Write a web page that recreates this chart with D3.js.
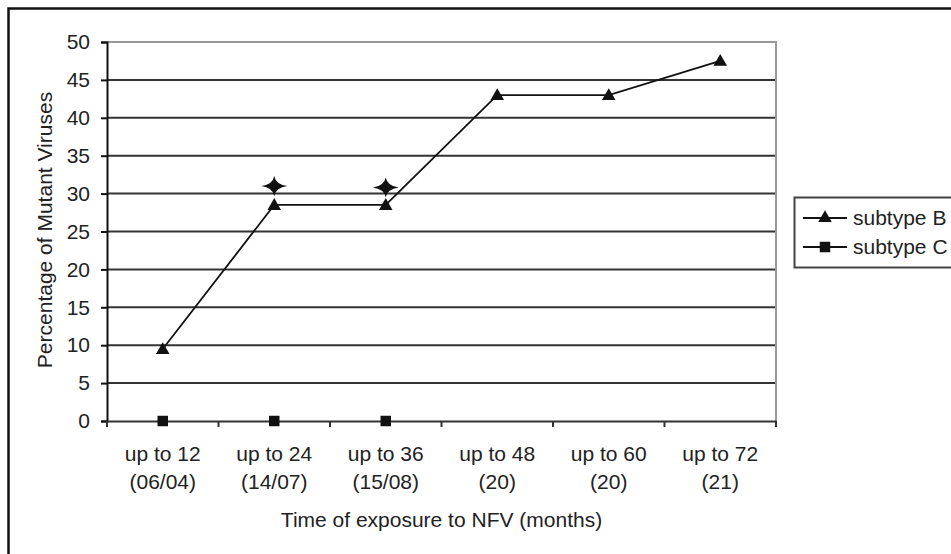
<!DOCTYPE html>
<html lang="en">
<head>
<meta charset="UTF-8">
<title>Mutant viruses over time</title>
<script src="https://d3js.org/d3.v7.min.js"></script>
<style>
    body { margin: 0; background: #fff; }
    svg { display: block; font-family: Arial, 'Liberation Sans', sans-serif; }
    .tick text { font-size: 21px; fill: #222; }
    .grid line { stroke: #333; stroke-width: 2; }
</style>
</head>
<body>
<svg id="chart" width="951" height="554"></svg>
<script>
    // category labels (two lines each)
    var catTop = ["up to 12", "up to 24", "up to 36", "up to 48", "up to 60", "up to 72"];
    var catBottom = ["(06/04)", "(14/07)", "(15/08)", "(20)", "(20)", "(21)"];
    // series values (%)
    var subtypeB = [9.5, 28.5, 28.5, 43, 43, 47.5];
    var subtypeC = [0, 0, 0, null, null, null];
    // star marks above points
    var stars = [null, 31, 30.8, null, null, null];
    var yTicks = [0, 5, 10, 15, 20, 25, 30, 35, 40, 45, 50];

    var svg = d3.select("#chart");
    var pLeft = 107, pRight = 776, pTop = 42, pBottom = 421;
    var fs = "21px";

    var x = d3.scaleBand().domain(catTop).range([pLeft, pRight]);
    var y = d3.scaleLinear().domain([0, 50]).range([pBottom, pTop]);

    // outer frame (only top and left edges are in view)
    svg.append("path")
        .attr("d", "M8.5,554 V8.5 H951")
        .attr("fill", "none").attr("stroke", "#111").attr("stroke-width", 2.5);

    // grid lines
    svg.append("g").attr("class", "grid")
        .selectAll("line").data(yTicks.filter(d => d > 0 && d < 50)).enter().append("line")
        .attr("x1", pLeft).attr("x2", pRight)
        .attr("y1", d => y(d)).attr("y2", d => y(d));

    // plot border top/right
    svg.append("path")
        .attr("d", "M" + pLeft + "," + pTop + " H" + pRight + " V" + pBottom)
        .attr("fill", "none").attr("stroke", "#999").attr("stroke-width", 2);

    // y axis
    var yAxis = svg.append("g")
        .attr("transform", "translate(" + pLeft + ",0)")
        .call(d3.axisLeft(y).tickValues(yTicks).tickSize(6).tickPadding(11));
    yAxis.select(".domain").attr("stroke", "#111").attr("stroke-width", 2);
    yAxis.selectAll(".tick line").attr("stroke", "#111").attr("stroke-width", 2);
    yAxis.selectAll(".tick text").attr("font-family", null);

    // x axis
    var xAxis = svg.append("g")
        .attr("transform", "translate(0," + pBottom + ")")
        .call(d3.axisBottom(x).tickSize(0).tickFormat(""));
    xAxis.select(".domain").attr("stroke", "#333").attr("stroke-width", 2);
    var edges = catTop.map(c => x(c)).concat([pRight]);
    xAxis.selectAll(".edge").data(edges).enter().append("line")
        .attr("x1", d => d).attr("x2", d => d)
        .attr("y1", 0).attr("y2", 6)
        .attr("stroke", "#333").attr("stroke-width", 2);

    var labels = svg.append("g").selectAll("text").data(catTop).enter().append("text")
        .attr("text-anchor", "middle")
        .style("font-size", fs).attr("fill", "#222");
    labels.append("tspan").attr("x", d => x(d) + x.bandwidth() / 2).attr("y", 461).text(d => d);
    labels.append("tspan").attr("x", d => x(d) + x.bandwidth() / 2).attr("y", 489).text((d, i) => catBottom[i]);

    // axis titles
    svg.append("text")
        .attr("x", (pLeft + pRight) / 2).attr("y", 527)
        .attr("text-anchor", "middle").style("font-size", fs).attr("fill", "#222")
        .text("Time of exposure to NFV (months)");
    svg.append("text")
        .attr("transform", "translate(52,230) rotate(-90)")
        .attr("text-anchor", "middle").style("font-size", fs).attr("fill", "#222")
        .text("Percentage of Mutant Viruses");

    var cx = (d, i) => x(catTop[i]) + x.bandwidth() / 2;

    var line = d3.line()
        .defined(d => d != null)
        .x((d, i) => cx(d, i))
        .y(d => y(d));

    svg.append("path").datum(subtypeB)
        .attr("d", line).attr("fill", "none").attr("stroke", "#111").attr("stroke-width", 1.8);

    var tri = d3.symbol().type(d3.symbolTriangle).size(80);
    var sq = d3.symbol().type(d3.symbolSquare).size(110);
    var star = "M0,-10 Q1.5,-1.5 13,0 Q1.5,1.5 0,10 Q-1.5,1.5 -13,0 Q-1.5,-1.5 0,-10Z";

    svg.append("g").selectAll("path").data(subtypeB).enter().append("path")
        .attr("d", tri)
        .attr("transform", (d, i) => "translate(" + cx(d, i) + "," + (y(d) + 1) + ")")
        .attr("fill", "#111");

    svg.append("g").selectAll("path").data(subtypeC.map((v, i) => ({ v: v, i: i })).filter(d => d.v != null))
        .enter().append("path")
        .attr("d", sq)
        .attr("transform", d => "translate(" + cx(d.v, d.i) + "," + y(d.v) + ")")
        .attr("fill", "#111");

    svg.append("g").selectAll("path").data(stars.map((v, i) => ({ v: v, i: i })).filter(d => d.v != null))
        .enter().append("path")
        .attr("d", star)
        .attr("transform", d => "translate(" + cx(d.v, d.i) + "," + y(d.v) + ")")
        .attr("fill", "#111");

    // legend
    var lg = svg.append("g");
    lg.append("rect")
        .attr("x", 794.5).attr("y", 197.5).attr("width", 170).attr("height", 70)
        .attr("fill", "#fff").attr("stroke", "#444").attr("stroke-width", 2);
    var items = [{ name: "subtype B", sym: tri, y: 218 }, { name: "subtype C", sym: sq, y: 247 }];
    items.forEach(function (it) {
        lg.append("line").attr("x1", 803).attr("x2", 847).attr("y1", it.y).attr("y2", it.y)
            .attr("stroke", "#111").attr("stroke-width", 1.8);
        lg.append("path").attr("d", it.sym)
            .attr("transform", "translate(825," + it.y + ")").attr("fill", "#111");
        lg.append("text").attr("x", 853).attr("y", it.y + 7)
            .style("font-size", fs).attr("fill", "#222").text(it.name);
    });
</script>
</body>
</html>
